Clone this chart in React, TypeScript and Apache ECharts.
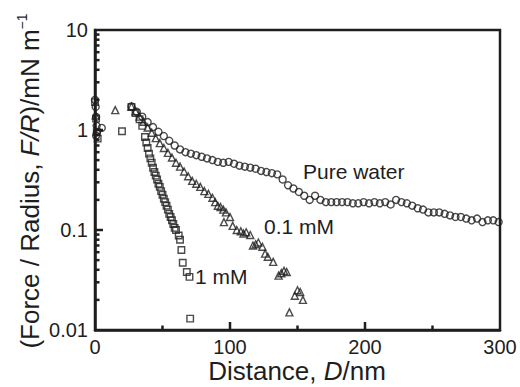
import React, { useEffect, useRef } from "react";
import * as echarts from "echarts";

// Pure water (circles): [D / nm, F/R / mN m^-1]
const pureWater: number[][] = [
  [0, 2.0], [0.5, 1.7], [0.8, 1.35], [1.2, 1.1], [1.5, 0.95], [0.8, 0.88], [5, 1.05],
  [27, 1.72], [31, 1.52], [35, 1.36], [39, 1.2], [43, 1.07], [47, 0.96], [51, 0.87], [55, 0.78],
  [59, 0.7], [63, 0.64], [67, 0.6], [71, 0.58], [75, 0.56], [79, 0.54], [83, 0.52], [87, 0.5],
  [91, 0.48], [95, 0.47], [99, 0.48], [103, 0.46], [107, 0.44], [111, 0.43], [115, 0.42], [119, 0.41],
  [123, 0.39], [127, 0.38], [131, 0.37], [135, 0.36], [139, 0.32], [143, 0.28], [147, 0.26], [151, 0.24],
  [155, 0.22], [159, 0.2], [163, 0.22], [167, 0.2], [171, 0.19], [175, 0.19], [179, 0.19], [183, 0.19],
  [187, 0.19], [191, 0.185], [195, 0.185], [199, 0.19], [203, 0.185], [207, 0.19], [211, 0.185], [215, 0.19],
  [219, 0.18], [223, 0.2], [227, 0.19], [231, 0.185], [235, 0.175], [239, 0.165], [243, 0.16], [247, 0.15],
  [251, 0.15], [255, 0.15], [259, 0.145], [263, 0.14], [267, 0.135], [271, 0.135], [275, 0.13], [279, 0.125],
  [283, 0.13], [287, 0.12], [291, 0.125], [295, 0.125], [299, 0.12],
];

// 0.1 mM (triangles)
const mM01: number[][] = [
  [0.5, 1.4], [15, 1.58],
  [27, 1.72], [30, 1.54], [33, 1.36], [36, 1.21], [39, 1.06], [42, 0.94], [45, 0.83], [48, 0.74],
  [51, 0.66], [54, 0.59], [57, 0.53], [60, 0.47], [63, 0.43], [66, 0.385], [69, 0.345], [72, 0.31],
  [75, 0.29], [78, 0.27], [81, 0.245], [84, 0.23], [87, 0.21], [89, 0.19], [91, 0.175], [93, 0.17],
  [95, 0.16], [95.5, 0.12], [97, 0.15], [100, 0.135], [102, 0.11], [105, 0.1], [108, 0.097], [110, 0.092],
  [112, 0.095], [115, 0.089], [117, 0.07], [119, 0.072], [121, 0.075], [124, 0.068], [126, 0.058], [128, 0.054],
  [132, 0.048], [136, 0.035], [138, 0.037], [140, 0.039], [142, 0.038], [144, 0.015], [148, 0.022],
  [150, 0.025], [152, 0.024], [154, 0.02],
];

// 1 mM (squares)
const mM1: number[][] = [
  [0, 1.9], [0.8, 1.3], [1.3, 0.95], [2, 0.82], [20, 0.97],
  [27, 1.7], [30, 1.48], [33, 1.28], [35, 1.1], [37, 0.85], [38, 0.75], [39, 0.66], [40, 0.58],
  [41, 0.52], [42, 0.47], [43, 0.42], [44, 0.38], [45, 0.35], [46, 0.32], [47, 0.29], [48, 0.27],
  [49, 0.245], [50, 0.225], [51, 0.205], [52, 0.19], [53, 0.175], [54, 0.16], [55, 0.145], [56, 0.135],
  [57, 0.125], [58, 0.115], [59, 0.105], [60, 0.1], [62, 0.088], [63, 0.08], [64, 0.063], [65, 0.047],
  [68, 0.038], [70, 0.034], [70.5, 0.013],
];

// axis tick positions
const yMajorTicks: number[] = [0.1, 1];
const yMinorTicks: number[] = [
  0.02, 0.03, 0.04, 0.05, 0.06, 0.07, 0.08, 0.09,
  0.2, 0.3, 0.4, 0.5, 0.6, 0.7, 0.8, 0.9,
  2, 3, 4, 5, 6, 7, 8, 9,
];
const xMajorTicks: number[] = [100, 200];
const xMinorTicks: number[] = [50, 150, 250];

const FONT = "'Liberation Sans', Arial, Helvetica, sans-serif";
const INK = "#1e1e1e";
const GRID = { left: 95, top: 30, right: 20, bottom: 57 };
const W = 520;
const H = 387;

function tickSeries(data: number[][], vertical: boolean, len: number) {
  return {
    type: "custom",
    silent: true,
    z: 5,
    data,
    renderItem: (_params: any, api: any) => {
      const p = api.coord([api.value(0), api.value(1)]);
      return {
        type: "line",
        shape: vertical
          ? { x1: p[0], y1: p[1], x2: p[0], y2: p[1] - len }
          : { x1: p[0], y1: p[1], x2: p[0] + len, y2: p[1] },
        style: { stroke: INK, lineWidth: 2.5 },
      };
    },
  };
}

export default function App() {
  const ref = useRef<HTMLDivElement>(null);
  useEffect(() => {
    if (!ref.current) return;
    const chart = echarts.init(ref.current, undefined, { renderer: "svg" });
    const markerStyle = { color: "rgba(0,0,0,0)", borderColor: INK, borderWidth: 1.4 };
    chart.setOption({
      animation: false,
      backgroundColor: "#fff",
      grid: { ...GRID, show: true, borderColor: INK, borderWidth: 2.5 },
      xAxis: {
        type: "value", min: 0, max: 300, interval: 100,
        axisLine: { show: true, lineStyle: { color: INK, width: 2.5 } },
        axisTick: { show: false },
        splitLine: { show: false },
        axisLabel: { color: INK, fontSize: 20, fontFamily: FONT, margin: 7 },
      },
      yAxis: {
        type: "log", logBase: 10, min: 0.01, max: 10,
        axisLine: { show: true, lineStyle: { color: INK, width: 2.5 } },
        axisTick: { show: false },
        splitLine: { show: false },
        axisLabel: { color: INK, fontSize: 20, fontFamily: FONT, margin: 7 },
      },
      series: [
        tickSeries(yMajorTicks.map((v) => [0, v]), false, 8),
        tickSeries(yMinorTicks.map((v) => [0, v]), false, 4.5),
        tickSeries(xMajorTicks.map((v) => [v, 0.01]), true, 8),
        tickSeries(xMinorTicks.map((v) => [v, 0.01]), true, 4.5),
        { type: "scatter", data: pureWater, symbol: "circle", symbolSize: 7, itemStyle: markerStyle },
        { type: "scatter", data: mM01, symbol: "triangle", symbolSize: 7, itemStyle: markerStyle },
        { type: "scatter", data: mM1, symbol: "rect", symbolSize: 6.5, itemStyle: markerStyle },
      ],
      graphic: [
        {
          type: "text", x: 297, y: 371,
          style: {
            text: "{a|Distance, }{i|D}{a|/nm}",
            align: "center", verticalAlign: "middle",
            rich: {
              a: { fontSize: 26, fill: INK, fontFamily: FONT },
              i: { fontSize: 26, fill: INK, fontFamily: FONT, fontStyle: "italic" },
            },
          },
        },
        {
          type: "text", x: 30, y: 181, rotation: Math.PI / 2,
          style: {
            text: "{a|(Force / Radius, }{i|F/R}{a|)/mN m}{s|−1}",
            align: "center", verticalAlign: "middle",
            rich: {
              a: { fontSize: 26, fill: INK, fontFamily: FONT, lineHeight: 30 },
              i: { fontSize: 26, fill: INK, fontFamily: FONT, fontStyle: "italic", lineHeight: 30 },
              s: { fontSize: 14, fill: INK, fontFamily: FONT, verticalAlign: "top", lineHeight: 14 },
            },
          },
        },
        { type: "text", left: 303, top: 161, style: { text: "Pure water", fontSize: 21, fontFamily: FONT, fill: INK } },
        { type: "text", left: 264, top: 216, style: { text: "0.1 mM", fontSize: 21, fontFamily: FONT, fill: INK } },
        { type: "text", left: 195, top: 266, style: { text: "1 mM", fontSize: 21, fontFamily: FONT, fill: INK } },
      ],
    });
    return () => chart.dispose();
  }, []);
  return <div ref={ref} style={{ position: "absolute", left: 0, top: 0, width: W, height: H }} />;
}
